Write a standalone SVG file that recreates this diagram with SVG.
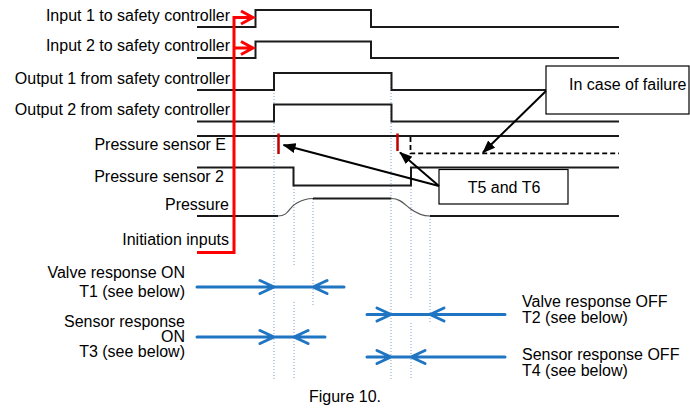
<svg xmlns="http://www.w3.org/2000/svg" width="690" height="409" viewBox="0 0 690 409">
<defs>
<marker id="ah" viewBox="0 0 13 10" refX="12" refY="5" markerWidth="13" markerHeight="10" markerUnits="userSpaceOnUse" orient="auto">
<path d="M0 0 L13 5 L0 10 z" fill="#000"/>
</marker>
</defs>
<style>
text{font-family:"Liberation Sans",Arial,sans-serif;font-size:16px;fill:#000}
.r{text-anchor:end}
.sig{fill:none;stroke:#1a1a1a;stroke-width:2}
.curve{fill:none;stroke:#555;stroke-width:1.2}
.guide{fill:none;stroke:#7F9FD4;stroke-width:1;stroke-dasharray:1 2}
.blue{fill:none;stroke:#1F75C2;stroke-width:3;stroke-linecap:round;stroke-linejoin:round}
.red{fill:none;stroke:#FF0000;stroke-width:3}
.tick{stroke:#C00000;stroke-width:2.5}
.box{fill:#fff;stroke:#000;stroke-width:1.2}
.ptr{fill:none;stroke:#000;stroke-width:2;marker-end:url(#ah)}
.dash{fill:none;stroke:#000;stroke-width:1.8;stroke-dasharray:5 3}
</style>

<g id="guides">
<path class="guide" d="M274 72V380 M294 186V266 M294 302V380 M313 199V305 M391 72V380 M411 186V300 M411 323V380 M430 216V323"/>
</g>

<g id="input1">
<text class="r" x="230" y="21">Input 1 to safety controller</text>
<path class="sig" d="M197 27H255.5V10H371V27H619"/>
</g>
<g id="input2">
<text class="r" x="230" y="51">Input 2 to safety controller</text>
<path class="sig" d="M197 58H255.5V41.5H371V58H619"/>
</g>
<g id="output1">
<text class="r" x="230" y="84">Output 1 from safety controller</text>
<path class="sig" d="M197 90H274V73H391.5V90H619"/>
</g>
<g id="output2">
<text class="r" x="230" y="115">Output 2 from safety controller</text>
<path class="sig" d="M197 121.5H274V104.5H391.5V121.5H619"/>
</g>
<g id="sensorE">
<text class="r" x="226" y="150">Pressure sensor E</text>
<path class="sig" d="M197 136H619"/>
<path class="dash" d="M410.5 137V153.3H619"/>
<line class="tick" x1="278.5" y1="133.5" x2="278.5" y2="154"/>
<line class="tick" x1="397.5" y1="133.5" x2="397.5" y2="151"/>
</g>
<g id="sensor2">
<text class="r" x="224" y="181.5">Pressure sensor 2</text>
<path class="sig" d="M197 167.5H293.5V185.5H411V167.5H619"/>
</g>
<g id="pressure">
<text class="r" x="229" y="210">Pressure</text>
<path class="sig" d="M197 216H278 M313 198.5H391.5 M430 216H619"/>
<path class="curve" d="M278 216C289 216 289 207 296 203.5C302 200 306 198.5 313 198.5 M391.5 198.5C400 198.5 404 204 410 208.5C416 213 422 216 430 216"/>
</g>
<g id="initiation">
<text class="r" x="229" y="245">Initiation inputs</text>
</g>

<g id="failure-box">
<rect class="box" x="546" y="66" width="143" height="48"/>
<text x="569" y="90">In case of failure</text>
</g>
<g id="t5t6-box">
<rect class="box" x="439" y="169.5" width="129" height="34.5"/>
<text x="504" y="193" text-anchor="middle">T5 and T6</text>
</g>

<g id="legend-left">
<text class="r" x="185" y="277.5">Valve response ON</text>
<text class="r" x="185" y="297">T1 (see below)</text>
<text class="r" x="185" y="327">Sensor response</text>
<text class="r" x="185" y="341.5">ON</text>
<text class="r" x="185" y="356.5">T3 (see below)</text>
</g>
<g id="legend-right">
<text x="522" y="306.5">Valve response OFF</text>
<text x="522" y="322.5">T2 (see below)</text>
<text x="522" y="360">Sensor response OFF</text>
<text x="522" y="376">T4 (see below)</text>
</g>

<g id="connectors">
<path class="red" d="M197 252.5H234V17.5H252 M234 48H252 M241 11L253 17.5L241 24 M241 41.5L253 48L241 54.5"/>
<path class="ptr" d="M546 91L483 152.5"/>
<path class="ptr" d="M439 186L400 152.5"/>
<path class="ptr" d="M439 186L283.5 145"/>
<path class="blue" d="M197 287H344 M260 280.5L274 287L260 293.5 M327 280.5L313 287L327 293.5"/>
<path class="blue" d="M197 337H325 M260 330.5L274 337L260 343.5 M308 330.5L294 337L308 343.5"/>
<path class="blue" d="M367 314.5H505 M377 308L391 314.5L377 321 M444 308L430 314.5L444 321"/>
<path class="blue" d="M367 357H505 M377 350.5L391 357L377 363.5 M425 350.5L411 357L425 363.5"/>
</g>

<text x="345" y="402" text-anchor="middle">Figure 10.</text>
</svg>
